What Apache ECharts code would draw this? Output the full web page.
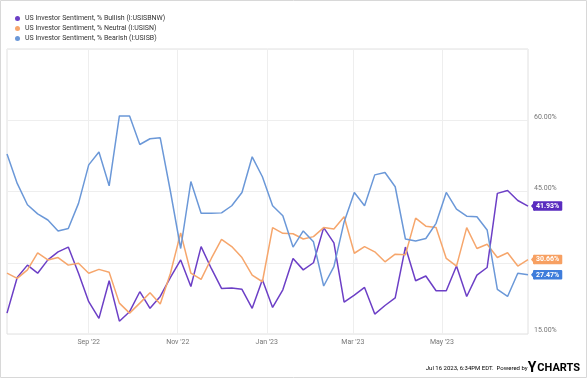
<!DOCTYPE html>
<html>
<head>
<meta charset="utf-8">
<script src="https://cdn.jsdelivr.net/npm/echarts@6/dist/echarts.min.js"></script>
<style>
html,body{margin:0;padding:0;background:#fff;}
#c{width:587px;height:378px;}
</style>
</head>
<body>
<div id="c"></div>
<script>
var dates = ['2022-07-07','2022-07-14','2022-07-21','2022-07-28','2022-08-04','2022-08-11','2022-08-18','2022-08-25',
'2022-09-01','2022-09-08','2022-09-15','2022-09-22','2022-09-29','2022-10-06','2022-10-13','2022-10-20','2022-10-27',
'2022-11-03','2022-11-10','2022-11-17','2022-11-24','2022-12-01','2022-12-08','2022-12-15','2022-12-22','2022-12-29',
'2023-01-05','2023-01-12','2023-01-19','2023-01-26','2023-02-02','2023-02-09','2023-02-16','2023-02-23',
'2023-03-02','2023-03-09','2023-03-16','2023-03-23','2023-03-30','2023-04-06','2023-04-13','2023-04-20','2023-04-27',
'2023-05-04','2023-05-11','2023-05-18','2023-05-25','2023-06-01','2023-06-08','2023-06-15','2023-06-22','2023-06-29'];

var bullish = [19.4,26.9,29.5,27.8,30.6,32.3,33.3,27.8,21.8,18.3,26.2,17.7,19.7,23.9,20.4,22.9,26.9,
30.6,25.0,33.4,28.8,24.6,24.7,24.4,20.4,26.4,20.6,24.3,30.9,28.5,30.0,37.4,34.2,21.7,23.2,24.8,19.2,21.0,22.6,
33.3,26.2,27.2,24.1,24.1,29.3,22.9,27.4,29.0,44.6,45.2,43.1,41.93];

var neutral = [27.8,26.7,28.5,32.1,30.6,31.1,29.5,29.9,27.8,28.6,28.0,21.5,19.4,21.5,23.7,21.3,27.8,
36.3,27.8,26.5,30.9,34.9,33.4,31.1,27.4,26.0,37.4,36.2,36.1,35.0,35.5,37.4,37.1,39.7,32.0,33.4,32.3,30.2,31.8,
31.7,39.4,37.7,37.4,30.9,29.3,37.4,33.0,33.9,31.1,32.1,29.3,30.66];

var bearish = [52.9,46.7,42.2,40.3,39.0,36.7,37.2,42.5,50.6,53.3,46.2,60.9,60.9,54.9,56.1,56.3,45.0,
33.0,47.1,40.4,40.4,40.5,42.0,44.8,52.3,48.1,42.0,39.9,33.3,36.7,34.4,25.1,29.2,38.6,44.8,42.0,48.5,49.0,46.0,
35.0,34.6,35.1,38.3,44.8,41.3,39.8,39.7,36.9,24.4,22.9,27.8,27.47];

var seriesNames = ['US Investor Sentiment, % Bullish (I:USISBNW)','US Investor Sentiment, % Neutral (I:USISN)','US Investor Sentiment, % Bearish (I:USISB)'];
var xTickDates = ['2022-09-01','2022-11-01','2023-01-01','2023-03-01','2023-05-01'];
var xTickLabels = ["Sep '22","Nov '22","Jan '23","Mar '23","May '23"];
var yTicks = [15,30,45,60,75];
var yShown = [15,45,60];

var lineColors = ['#6c3fc6','#f6a66c','#6b98d8'];
var labelColors = ['#5a2cbf','#f7a062','#3f7ddb'];

function ts(s){ var p = s.split('-'); return Date.UTC(+p[0], +p[1]-1, +p[2]); }
var tickTs = xTickDates.map(ts);
var dateTs = dates.map(ts);

var chart = echarts.init(document.getElementById('c'), null, {renderer:'canvas'});
var values = [bullish, neutral, bearish];

var series = values.map(function(arr, k){
  var data = arr.map(function(v,i){ return [dateTs[i], v]; });
  var last = data[data.length-1];
  return {
    name: seriesNames[k],
    type: 'line',
    data: data,
    showSymbol: false,
    symbol: 'circle',
    lineStyle: {width: 1.5, color: lineColors[k]},
    itemStyle: {color: lineColors[k]},
    z: 3 + k,
    endLabel: {
      show: true,
      distance: 5,
      formatter: function(p){ return p.value[1].toFixed(2) + '%'; },
      color: '#fff',
      fontSize: 7,
      fontWeight: 'bold',
      fontFamily: 'Roboto',
      backgroundColor: labelColors[k],
      padding: [1.5, 3, 1, 3],
      borderRadius: 1
    },
    markPoint: {
      silent: true,
      symbol: 'path://M0,5 L5,0 L5,10 Z',
      symbolSize: [4, 10],
      symbolOffset: [5, 0],
      symbolKeepAspect: false,
      itemStyle: {color: labelColors[k]},
      label: {show: false},
      data: [{coord: last}]
    }
  };
});

chart.setOption({
  animation: false,
  textStyle: {fontFamily: 'Roboto'},
  color: lineColors,
  legend: {
    orient: 'vertical',
    left: 10,
    top: 10,
    icon: 'circle',
    itemWidth: 5,
    itemHeight: 5,
    itemGap: 3,
    data: seriesNames,
    textStyle: {fontSize: 7, color: '#333', fontFamily: 'Roboto'}
  },
  grid: {
    left: 7, right: 59, top: 49, bottom: 44,
    show: true, borderColor: '#e0e0e0', borderWidth: 1,
    containLabel: false
  },
  xAxis: {
    type: 'value',
    min: dateTs[0],
    max: dateTs[dateTs.length-1],
    axisLine: {show: false},
    axisTick: {show: false, customValues: tickTs},
    splitLine: {show: true, lineStyle: {color: '#eeeeee', width: 1}},
    axisLabel: {
      customValues: tickTs,
      margin: 5,
      fontSize: 7,
      color: '#777',
      formatter: function(v){
        var i = tickTs.indexOf(v);
        return i >= 0 ? xTickLabels[i] : '';
      }
    }
  },
  yAxis: {
    type: 'value',
    position: 'right',
    min: yTicks[0],
    max: yTicks[yTicks.length-1],
    interval: 15,
    axisLine: {show: false},
    axisTick: {show: false},
    splitLine: {show: true, lineStyle: {color: '#eeeeee', width: 1}},
    axisLabel: {
      margin: 6,
      fontSize: 7,
      color: '#777',
      verticalAlign: 'bottom',
      formatter: function(v){ return yShown.indexOf(v) >= 0 ? v.toFixed(2) + '%' : ''; }
    }
  },
  graphic: [
    {type: 'rect', silent: true, shape: {x: 0.5, y: 0.5, width: 586, height: 377}, style: {fill: 'none', stroke: '#d8d8d8', lineWidth: 1}, z: 100},
    {type: 'text', right: 7, top: 361, silent: true, style: {
      text: '{a|Jul 16 2023, 6:34PM EDT.}{a|  Powered by}{y|Y}{c|CHARTS}',
      rich: {
        a: {fontSize: 6, color: '#333', fontFamily: 'Roboto'},
        y: {fontSize: 14, fontWeight: 'bold', color: '#3b8fe6', fontFamily: 'Roboto'},
        c: {fontSize: 11, fontWeight: 'bold', color: '#222', fontFamily: 'Roboto', padding: [0,0,0,1]}
      }
    }}
  ],
  series: series
});
</script>
</body>
</html>
